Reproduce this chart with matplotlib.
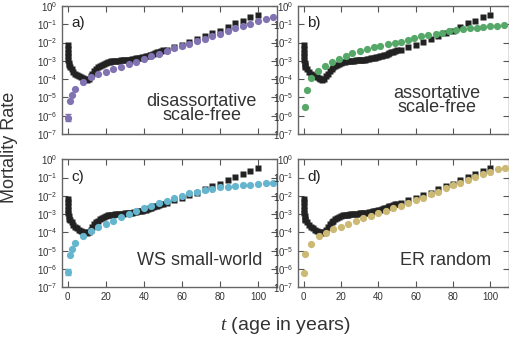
import numpy as np
import matplotlib.pyplot as plt

plt.rcParams['font.family'] = ['Liberation Sans', 'DejaVu Sans']
plt.rcParams['mathtext.fontset'] = 'custom'
plt.rcParams['mathtext.rm'] = 'Liberation Sans'
plt.rcParams['mathtext.it'] = 'Liberation Serif:italic'

age_emp = [0, 0.1, 0.2, 0.3, 0.4, 0.5, 0.75, 1, 2, 3, 4, 5, 6, 7, 8, 9, 10, 11,
           12, 13, 14, 15, 16, 17, 18, 19, 20, 21, 22, 23, 24, 25, 26, 27, 28, 29,
           30, 31, 32, 33, 34, 35, 36, 37, 38, 39, 40, 41, 42, 43, 44, 45, 46, 47,
           48, 49, 50, 52, 56, 60, 64, 68, 72, 76, 80, 84, 88, 92, 96, 100]
log_emp = [-2.15, -2.35, -2.55, -2.75, -2.95, -3.12, -3.25, -3.32, -3.45, -3.6,
           -3.7, -3.78, -3.85, -3.9, -3.95, -4.0, -4.05, -4.0, -3.85, -3.7, -3.55,
           -3.45, -3.35, -3.27, -3.2, -3.15, -3.1, -3.07, -3.05, -3.03, -3.02,
           -3.01, -3.0, -2.99, -2.98, -2.97, -2.96, -2.95, -2.94, -2.93, -2.91,
           -2.89, -2.87, -2.85, -2.83, -2.81, -2.78, -2.75, -2.72, -2.69, -2.66,
           -2.62, -2.58, -2.54, -2.5, -2.46, -2.42, -2.38, -2.22, -2.12, -1.95,
           -1.83, -1.63, -1.48, -1.35, -1.15, -0.95, -0.8, -0.62, -0.5]

# model curves (coloured dots)
age_a = [0, 1, 2, 4, 8, 12, 16, 20, 24, 28, 32, 36, 40, 44, 48, 52, 56, 60, 64,
         68, 72, 76, 80, 84, 88, 92, 96, 100, 104, 108]
log_a = [-6.1, -5.2, -4.88, -4.55, -4.18, -3.87, -3.72, -3.59, -3.44, -3.31, -3.17,
         -3.04, -2.89, -2.75, -2.61, -2.45, -2.3, -2.19, -2.06, -1.92, -1.78, -1.64,
         -1.51, -1.36, -1.22, -1.09, -0.96, -0.81, -0.7, -0.6]

age_b = [0.5, 1.6, 4, 7.7, 11.4, 15, 18.8, 22.5, 26, 30, 34, 37.5, 41, 45, 48.7,
         52, 55.7, 59.3, 63, 66.8, 70.7, 74.2, 77.8, 81.7, 85.4, 88.9, 92.8, 96.3,
         99.8, 103.7, 107.4]
log_b = [-5.52, -4.59, -3.94, -3.54, -3.3, -3.08, -2.89, -2.73, -2.58, -2.47, -2.36,
         -2.26, -2.17, -2.08, -2.03, -1.95, -1.84, -1.75, -1.64, -1.56, -1.51, -1.45,
         -1.38, -1.33, -1.27, -1.23, -1.18, -1.14, -1.1, -1.09, -1.05]

age_c = age_a
log_c = [-6.15, -5.23, -4.9, -4.6, -4.18, -3.92, -3.72, -3.54, -3.36, -3.17, -2.99,
         -2.83, -2.68, -2.54, -2.41, -2.26, -2.13, -2.0, -1.86, -1.77, -1.68, -1.61,
         -1.53, -1.49, -1.46, -1.42, -1.39, -1.35, -1.31, -1.28]

age_d = [0, 1, 4, 8, 12, 16, 20, 24, 28, 32, 36, 40, 44, 48, 52, 56, 60, 64, 68,
         72, 76, 80, 84, 88, 92, 96, 100, 104, 108]
log_d = [-6.2, -5.18, -4.63, -4.19, -4.01, -3.83, -3.68, -3.54, -3.37, -3.23, -3.08,
         -2.95, -2.83, -2.68, -2.54, -2.41, -2.23, -2.1, -1.9, -1.77, -1.55, -1.41,
         -1.28, -1.13, -0.95, -0.82, -0.68, -0.55, -0.49]

panels = [
    ("a)", "disassortative\nscale-free", age_a, log_a, "#8172B2", True),
    ("b)", "assortative\nscale-free", age_b, log_b, "#55A868", False),
    ("c)", "WS small-world", age_c, log_c, "#64B5CD", True),
    ("d)", "ER random", age_d, log_d, "#CCB974", False),
]
# where each panel's name sits (axes fraction)
name_pos = [(0.65, 0.20), (0.66, 0.26), (0.64, 0.21), (0.70, 0.21)]

W, H = 510, 343
fig = plt.figure(figsize=(W / 100, H / 100), dpi=100)
lefts = [62, 298]
rights = [277, 509]
tops = [6, 159.3]
bottoms = [134, 287.3]

for i, (tag, name, ages, logs, col, errbar) in enumerate(panels):
    r, c = divmod(i, 2)
    ax = fig.add_axes([lefts[c] / W, 1 - bottoms[r] / H,
                       (rights[c] - lefts[c]) / W, (bottoms[r] - tops[r]) / H])
    ax.plot(age_emp, 10 ** np.array(log_emp), 's', color="#222222", ms=4.8,
            mec="none", zorder=2)
    vals = 10 ** np.array(logs)
    ax.plot(ages, vals, 'o', color=col, ms=5.2, mec="none", zorder=3)
    if errbar:
        ax.errorbar(ages[0], vals[0], yerr=[[vals[0] * 0.35], [vals[0] * 0.5]],
                    fmt='none', ecolor=col, elinewidth=1.2, capsize=2.5, zorder=3)
    ax.set_yscale('log')
    ax.set_ylim(1e-7, 1)
    ax.set_xlim(-3, 110)
    ax.set_xticks(range(0, 101, 20))
    ax.set_yticks([10.0 ** k for k in range(-7, 1)])
    ax.tick_params(direction='in', top=True, right=True, length=4, width=0.8,
                   colors="#555555", labelcolor="#333333", labelsize=7)
    ax.tick_params(which='minor', direction='in', right=True, length=2, width=0.6,
                   colors="#555555")
    if r == 0:
        ax.set_xticklabels([])
    for sp in ax.spines.values():
        sp.set_color("#666666")
        sp.set_linewidth(1.0)
    ax.text(0.045, 0.92, tag, transform=ax.transAxes, fontsize=11,
            color="#222222", va='top', ha='left')
    nx, ny = name_pos[i]
    ax.text(nx, ny, name, transform=ax.transAxes, fontsize=13, color="#333333",
            ha='center', va='center', linespacing=0.8)

fig.text(10 / W, 1 - 147 / H, "Mortality Rate", rotation=90, fontsize=13,
         color="#333333", ha='center', va='center')
fig.text(285 / W, 1 - 325 / H, "$t$ (age in years)", fontsize=14,
         color="#333333", ha='center', va='center')

fig.savefig("out.png", dpi=100)
